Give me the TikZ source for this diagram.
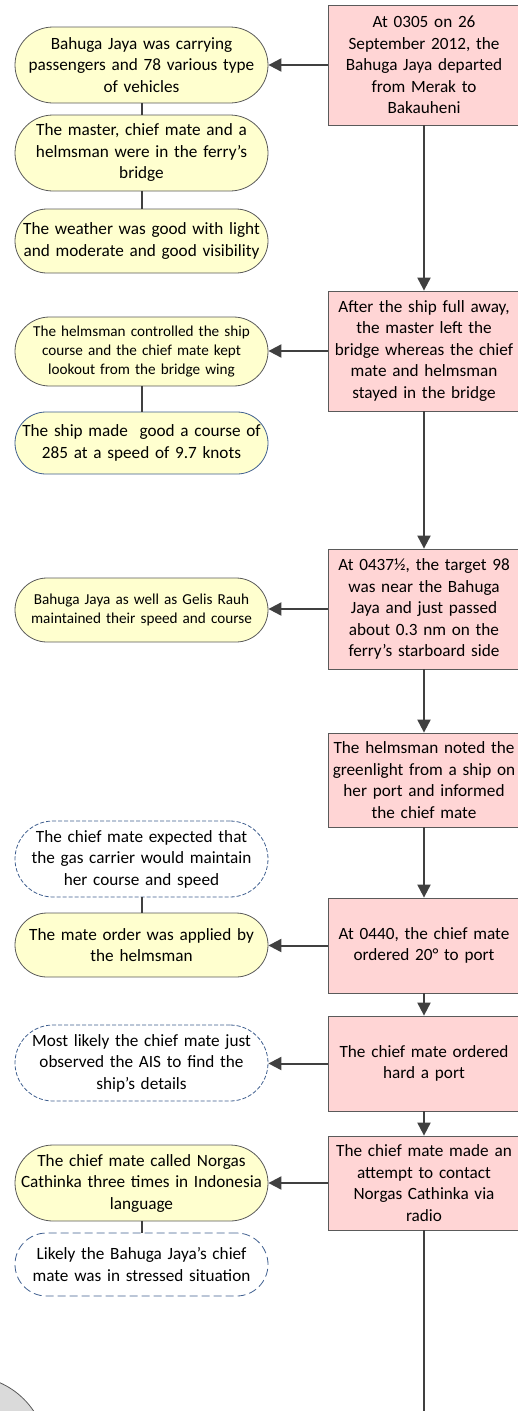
\documentclass[tikz,border=0pt]{standalone}
\usepackage{fontspec}
\setmainfont{Carlito}
\usetikzlibrary{arrows.meta,shadows}
\definecolor{redfill}{HTML}{FFD5D5}
\definecolor{yelfill}{HTML}{FFFFCF}
\definecolor{boxline}{HTML}{5A5A5A}
\definecolor{bluel}{HTML}{3F5F8F}
\definecolor{arrcol}{HTML}{404040}
\definecolor{greyfill}{HTML}{DADADA}
\newcommand{\bigtxt}{\fontsize{17.2}{21.5}\selectfont}
\newcommand{\smalltxt}{\fontsize{15.2}{19}\selectfont}
\tikzset{
  redbox/.style={rectangle, draw=boxline, line width=0.8pt, fill=redfill, minimum width=192pt,
    text width=188pt, align=center, inner sep=0pt, font=\bigtxt},
  yelbox/.style={rectangle, draw=boxline, line width=0.8pt, fill=yelfill, minimum width=253pt,
    text width=250pt, align=center, inner sep=0pt, font=\bigtxt},
  bluebox/.style={rectangle, draw=bluel, line width=0.8pt, fill=yelfill, minimum width=253pt,
    text width=250pt, align=center, inner sep=0pt, font=\bigtxt},
  dashbox/.style={rectangle, draw=bluel, line width=0.8pt, dash pattern=on 4pt off 2pt, fill=white, minimum width=253pt,
    text width=250pt, align=center, inner sep=0pt, font=\bigtxt},
  arr/.style={draw=arrcol, line width=2pt, -{Triangle[length=13pt,width=13pt]}},
  lnk/.style={draw=arrcol, line width=2pt},
}
\begin{document}
\begin{tikzpicture}[x=1pt,y=-1pt]
\useasboundingbox (0,0) rectangle (518,1411);
\clip (0,0) rectangle (518,1411);

% grey circle (cut off at bottom-left)
\node[circle, draw=boxline, line width=0.8pt, fill=greyfill, minimum size=158pt] (gc) at (-32,1455) {};

% red boxes (main sequence)
\node[redbox, minimum height=120pt] (r1) at (424,65) {At 0305 on 26\\September 2012, the\\Bahuga Jaya departed\\from Merak to\\Bakauheni};
\node[redbox, minimum height=120pt] (r2) at (424,351) {After the ship full away,\\the master left the\\bridge whereas the chief\\mate and helmsman\\stayed in the bridge};
\node[redbox, minimum height=120pt] (r3) at (424,609) {At 0437½, the target 98\\was near the Bahuga\\Jaya and just passed\\about 0.3 nm on the\\ferry’s starboard side};
\node[redbox, minimum height=94pt] (r4) at (424,780) {The helmsman noted the\\greenlight from a ship on\\her port and informed\\the chief mate};
\node[redbox, minimum height=95pt] (r5) at (424,945.5) {At 0440, the chief mate\\ordered 20° to port};
\node[redbox, minimum height=95pt] (r6) at (424,1063.5) {The chief mate ordered\\hard a port};
\node[redbox, minimum height=94pt] (r7) at (424,1183) {The chief mate made an\\attempt to contact\\Norgas Cathinka via\\radio};

% left column
\node[yelbox, minimum height=76pt, rounded corners=38pt] (y1) at (141.5,65) {Bahuga Jaya was carrying\\passengers and 78 various type\\of vehicles};
\node[yelbox, minimum height=76pt, rounded corners=38pt] (y2) at (141.5,153) {The master, chief mate and a\\helmsman were in the ferry’s\\bridge};
\node[yelbox, minimum height=64pt, rounded corners=32pt] (y3) at (141.5,241) {The weather was good with light\\and moderate and good visibility};
\node[yelbox, minimum height=69pt, rounded corners=34.5pt, font=\smalltxt] (y4) at (141.5,351.5) {The helmsman controlled the ship\\course and the chief mate kept\\lookout from the bridge wing};
\node[bluebox, minimum height=62pt, rounded corners=31pt] (y5) at (141.5,443) {The ship made \ good a course of\\285 at a speed of 9.7 knots};
\node[yelbox, minimum height=64pt, rounded corners=32pt, font=\smalltxt] (y6) at (141.5,610) {Bahuga Jaya as well as Gelis Rauh\\maintained their speed and course};
\node[dashbox, minimum height=76pt, rounded corners=38pt] (d1) at (141.5,859) {The chief mate expected that\\the gas carrier would maintain\\her course and speed};
\node[yelbox, minimum height=64pt, rounded corners=32pt] (y7) at (141.5,945) {The mate order was applied by\\the helmsman};
\node[dashbox, minimum height=76pt, rounded corners=38pt] (d2) at (141.5,1063) {Most likely the chief mate just\\observed the AIS to find the\\ship’s details};
\node[yelbox, minimum height=76pt, rounded corners=38pt] (y8) at (141.5,1183) {The chief mate called Norgas\\Cathinka three times in Indonesia\\language};
\node[dashbox, minimum height=63pt, rounded corners=31.5pt, dash pattern=on 8pt off 4pt] (d3) at (141.5,1264.5) {Likely the Bahuga Jaya’s chief\\mate was in stressed situation};

\coordinate (rend) at (424,1420);

% vertical arrows
\draw[arr] (r1) -- (r2);
\draw[arr] (r2) -- (r3);
\draw[arr] (r3) -- (r4);
\draw[arr] (r4) -- (r5);
\draw[arr] (r5) -- (r6);
\draw[arr] (r6) -- (r7);
\draw[lnk] (r7) -- (rend);

% horizontal arrows
\draw[arr] (r1.west) -- (r1.west -| y1.east);
\draw[arr] (r2.west) -- (r2.west -| y4.east);
\draw[arr] (r3.west) -- (r3.west -| y6.east);
\draw[arr] (r5.west) -- (r5.west -| y7.east);
\draw[arr] (r6.west) -- (r6.west -| d2.east);
\draw[arr] (r7.west) -- (r7.west -| y8.east);

% plain links
\draw[lnk] (y1) -- (y2);
\draw[lnk] (y2) -- (y3);
\draw[lnk] (y4) -- (y5);
\draw[lnk] (d1) -- (y7);
\draw[lnk] (y8) -- (d3);
\end{tikzpicture}
\end{document}
